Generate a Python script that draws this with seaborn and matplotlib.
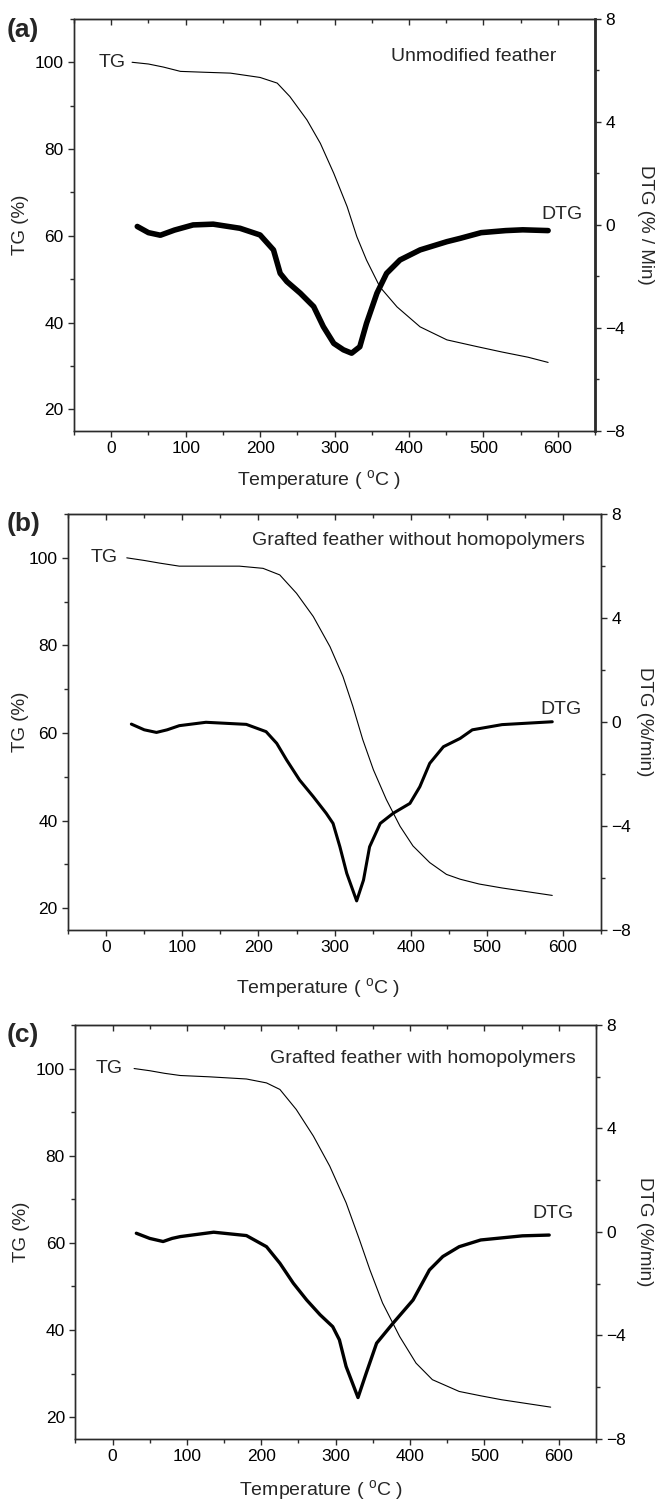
import matplotlib
matplotlib.use("Agg")
import matplotlib.pyplot as plt
from matplotlib.ticker import MultipleLocator
import seaborn as sns

sns.set_style("ticks")
plt.rcParams["font.family"] = ["Liberation Sans", "DejaVu Sans"]
plt.rcParams["mathtext.default"] = "regular"

# ---- (a) Unmodified feather ----
a_tg_t = [28, 50, 70, 93, 125, 160, 200, 223, 240, 263, 281, 299, 317, 330, 343, 361, 384, 415, 451, 490, 525, 560, 587]
a_tg = [100, 99.6, 98.9, 97.9, 97.7, 97.5, 96.5, 95.2, 92.1, 86.7, 81.3, 74.4, 66.7, 59.8, 54.4, 48.2, 43.6, 39.0,
        36.0, 34.5, 33.2, 32.0, 30.8]
a_dtg_t = [35, 50, 66, 85, 110, 137, 173, 200, 218, 227, 236, 254, 272, 285, 299, 312, 323, 334, 343, 357,
           370, 388, 415, 451, 469, 497, 530, 553, 587]
a_dtg = [-0.06, -0.3, -0.4, -0.2, 0.0, 0.03, -0.13, -0.39, -0.97, -1.88, -2.2, -2.65, -3.17, -3.95, -4.6, -4.85,
         -4.98, -4.73, -3.82, -2.65, -1.88, -1.36, -0.97, -0.65, -0.52, -0.3, -0.22, -0.19, -0.22]

# ---- (b) Grafted feather without homopolymers ----
b_tg_t = [27, 50, 70, 96, 130, 175, 206, 228, 250, 272, 294, 311, 324, 337, 351, 368, 386, 403, 425, 447, 465,
          490, 520, 586]
b_tg = [100, 99.4, 98.8, 98.1, 98.1, 98.1, 97.6, 96.1, 91.9, 86.6, 79.7, 72.9, 66.1, 58.5, 51.6, 44.8, 38.7, 34.2,
        30.4, 27.7, 26.6, 25.5, 24.6, 22.9]
b_dtg_t = [33, 50, 66, 80, 96, 131, 184, 210, 224, 237, 254, 272, 289, 298, 307, 316, 329, 338, 346, 360,
           377, 399, 412, 425, 443, 465, 481, 520, 586]
b_dtg = [-0.08, -0.3, -0.40, -0.3, -0.14, -0.01, -0.09, -0.37, -0.82, -1.46, -2.23, -2.87, -3.51, -3.9, -4.8,
         -5.82, -6.88, -6.08, -4.8, -3.9, -3.51, -3.13, -2.49, -1.59, -0.95, -0.63, -0.3, -0.1, 0.01]

# ---- (c) Grafted feather with homopolymers ----
c_tg_t = [29, 50, 70, 91, 130, 180, 207, 225, 247, 270, 292, 314, 332, 346, 363, 386, 408, 430, 466, 495, 523, 589]
c_tg = [100, 99.5, 98.9, 98.4, 98.1, 97.6, 96.7, 95.2, 90.6, 84.5, 77.6, 69.2, 60.7, 53.8, 46.2, 38.5, 32.4, 28.6,
        25.9, 24.9, 24.0, 22.3]
c_dtg_t = [32, 50, 68, 80, 91, 136, 180, 207, 225, 243, 261, 279, 296, 305, 314, 330, 341, 355, 377, 404,
           426, 444, 466, 495, 551, 587]
c_dtg = [-0.05, -0.25, -0.37, -0.25, -0.18, -0.01, -0.14, -0.57, -1.21, -1.98, -2.63, -3.2, -3.66, -4.17, -5.2,
         -6.4, -5.46, -4.3, -3.53, -2.63, -1.47, -0.95, -0.57, -0.31, -0.15, -0.12]

panels = [
    dict(tag="(a)", title="Unmodified feather", dtg_label="DTG (% / Min)",
         tg_t=a_tg_t, tg=a_tg, dtg_t=a_dtg_t, dtg=a_dtg, dtg_lw=4.0, right_lw=2.0,
         rect=[0.1130, 0.7127, 0.7954, 0.2747], title_xy=(487, 101.4), tg_xy=(20, 100), dtg_xy=(605, 0.42),
         xlab=(0.470, -0.119), ylab=-0.102, rlab=1.096, tag_y=0.980),
    dict(tag="(b)", title="Grafted feather without homopolymers", dtg_label="DTG (%/min)",
         tg_t=b_tg_t, tg=b_tg, dtg_t=b_dtg_t, dtg=b_dtg, dtg_lw=2.2, right_lw=1.0,
         rect=[0.1041, 0.380, 0.8134, 0.2773], title_xy=(410, 104), tg_xy=(15, 100), dtg_xy=(598, 0.48),
         xlab=(0.469, -0.139), ylab=-0.089, rlab=1.081, tag_y=0.651),
    dict(tag="(c)", title="Grafted feather with homopolymers", dtg_label="DTG (%/min)",
         tg_t=c_tg_t, tg=c_tg, dtg_t=c_dtg_t, dtg=c_dtg, dtg_lw=2.4, right_lw=1.0,
         rect=[0.1150, 0.0407, 0.7950, 0.276], title_xy=(417, 102.3), tg_xy=(14, 100), dtg_xy=(592, 0.72),
         xlab=(0.472, -0.123), ylab=-0.104, rlab=1.094, tag_y=0.310),
]

fig = plt.figure(figsize=(6.55, 15), dpi=100)
spine_col = "#2b2b2b"
TICK_FS = 12.5
LABEL_FS = 13.5

for p in panels:
    ax = fig.add_axes(p["rect"])
    sns.lineplot(x=p["tg_t"], y=p["tg"], ax=ax, color="black", lw=0.8, sort=False, estimator=None)
    ax.set_xlim(-50, 650)
    ax.set_ylim(15, 110)
    ax.xaxis.set_major_locator(MultipleLocator(100))
    ax.xaxis.set_minor_locator(MultipleLocator(50))
    ax.set_yticks([20, 40, 60, 80, 100])
    ax.yaxis.set_minor_locator(MultipleLocator(10))
    ax.tick_params(axis="both", which="major", direction="out", length=4.5, width=1, labelsize=TICK_FS,
                   colors=spine_col, labelcolor="black", pad=3)
    ax.tick_params(axis="both", which="minor", direction="out", length=3, width=1, colors=spine_col)
    for sp in ax.spines.values():
        sp.set_color(spine_col)
        sp.set_linewidth(1.0)
    ax.set_xlabel("Temperature ( $^{o}$C )", fontsize=LABEL_FS + 0.5)
    ax.xaxis.set_label_coords(*p["xlab"])
    ax.xaxis.label.set_va("center")
    ax.set_ylabel("TG (%)", fontsize=LABEL_FS)
    ax.yaxis.set_label_coords(p["ylab"], 0.5)
    ax.yaxis.label.set_va("center")

    # inward ticks along the top edge
    top = ax.secondary_xaxis("top")
    top.xaxis.set_major_locator(MultipleLocator(100))
    top.xaxis.set_minor_locator(MultipleLocator(50))
    top.tick_params(axis="x", which="major", direction="in", length=4.5, width=1, colors=spine_col,
                    labeltop=False)
    top.tick_params(axis="x", which="minor", direction="in", length=3, width=1, colors=spine_col)
    top.spines["top"].set_color(spine_col)

    ax2 = ax.twinx()
    sns.lineplot(x=p["dtg_t"], y=p["dtg"], ax=ax2, color="black", lw=p["dtg_lw"], sort=False, estimator=None)
    ax2.set_ylim(-8, 8)
    ax2.yaxis.set_major_locator(MultipleLocator(4))
    ax2.yaxis.set_minor_locator(MultipleLocator(2))
    ax2.tick_params(axis="y", which="major", direction="out", length=4.5, width=1, labelsize=TICK_FS,
                    colors=spine_col, labelcolor="black", pad=3)
    ax2.tick_params(axis="y", which="minor", direction="out", length=3, width=1, colors=spine_col)
    for sp in ax2.spines.values():
        sp.set_color(spine_col)
        sp.set_linewidth(1.0)
    ax2.spines["right"].set_linewidth(p["right_lw"])
    ax2.set_ylabel(p["dtg_label"], fontsize=LABEL_FS, rotation=270)
    ax2.yaxis.set_label_coords(p["rlab"], 0.5)
    ax2.yaxis.label.set_va("center")

    ax.text(*p["tg_xy"], "TG", fontsize=14, ha="right", va="center")
    ax.text(*p["title_xy"], p["title"], fontsize=14, ha="center", va="center")
    ax2.text(*p["dtg_xy"], "DTG", fontsize=14, ha="center", va="center")

    fig.text(0.010, p["tag_y"], p["tag"], fontsize=19, fontweight="bold", ha="left", va="center")

fig.savefig("out.png", dpi=100)
